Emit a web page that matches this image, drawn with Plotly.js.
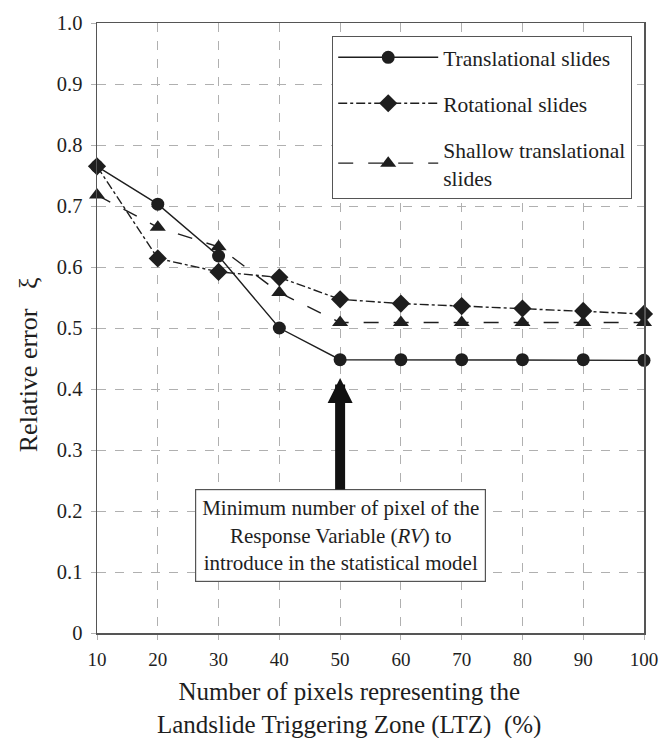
<!DOCTYPE html>
<html>
<head>
<meta charset="utf-8">
<script src="https://cdn.plot.ly/plotly-3.0.1.min.js"></script>
<style>
  html, body { margin: 0; padding: 0; background: #fff; }
  #chart { width: 659px; height: 738px; }
</style>
</head>
<body>
<div id="chart"></div>
<script>
// Share of LTZ pixels used (%)
const pixelShare = [10, 20, 30, 40, 50, 60, 70, 80, 90, 100];

// Relative error for each landslide type
const translational = [0.765, 0.703, 0.618, 0.500, 0.448, 0.448, 0.448, 0.448, 0.448, 0.447];
const rotational = [0.765, 0.614, 0.592, 0.583, 0.547, 0.540, 0.536, 0.532, 0.528, 0.523];
const shallowTranslational = [0.718, 0.665, 0.633, 0.558, 0.509, 0.509, 0.509, 0.509, 0.509, 0.509];

const seriesNames = ["Translational slides", "Rotational slides", "Shallow translational<br>slides"];

const yTickVals = [0, 0.1, 0.2, 0.3, 0.4, 0.5, 0.6, 0.7, 0.8, 0.9, 1.0];
const yTickText = ["0", "0.1", "0.2", "0.3", "0.4", "0.5", "0.6", "0.7", "0.8", "0.9", "1.0"];

// Tip of the arrow and centre of the note box (data units)
const arrowTip = { x: 50, y: 0.418 };
const noteCentre = { x: 50, y: 0.160 };

const ink = "#1e1e1e";
const serif = "Liberation Serif, Times New Roman, serif";

function series(name, y, dash, symbol, size, group) {
  return {
    x: pixelShare,
    y: y,
    name: name,
    legendgroup: group,
    type: "scatter",
    mode: "lines+markers",
    cliponaxis: false,
    line: { color: ink, width: 1.4, dash: dash },
    marker: { symbol: symbol, size: size, color: ink, line: { width: 0 } }
  };
}

const traces = [
  series(seriesNames[0], translational, "solid", "circle", 13, "a"),
  series(seriesNames[1], rotational, "dashdot", "diamond", 14, "b"),
  series(seriesNames[2], shallowTranslational, "longdash", "triangle-up", 14, "c")
];

const axisCommon = {
  showline: true,
  mirror: true,
  linecolor: "#555",
  linewidth: 1.5,
  showgrid: true,
  gridcolor: "#b0b0b0",
  griddash: "dash",
  gridwidth: 1,
  zeroline: false,
  ticks: "outside",
  ticklen: 5,
  tickcolor: "#b0b0b0",
  ticklabelstandoff: 4
};

const layout = {
  width: 659,
  height: 738,
  margin: { l: 97, r: 15, t: 23, b: 105 },
  paper_bgcolor: "#fff",
  plot_bgcolor: "#fff",
  font: { family: serif, color: ink },
  showlegend: true,
  legend: {
    x: 0.43, y: 0.979, xanchor: "left", yanchor: "top",
    bgcolor: "#fff",
    bordercolor: "#555",
    borderwidth: 1,
    font: { family: serif, size: 21.5, color: ink },
    itemwidth: 100,
    tracegroupgap: 15,
    traceorder: "grouped"
  },
  xaxis: Object.assign({}, axisCommon, {
    range: [10, 100],
    tickvals: pixelShare,
    tickfont: { family: serif, size: 19, color: ink }
  }),
  yaxis: Object.assign({}, axisCommon, {
    range: [0, 1],
    tickvals: yTickVals,
    ticktext: yTickText,
    tickfont: { family: serif, size: 20.5, color: ink }
  }),
  annotations: [
    {
      // y-axis title
      xref: "paper", yref: "paper",
      x: -0.125, y: 0.44, xanchor: "center", yanchor: "middle",
      textangle: -90,
      text: "Relative error   ξ",
      font: { family: serif, size: 26, color: ink },
      showarrow: false
    },
    {
      // x-axis title, two lines
      xref: "paper", yref: "paper",
      x: 0.46, y: -0.123, xanchor: "center", yanchor: "middle",
      text: "Number of pixels representing the<br>Landslide Triggering Zone (LTZ)  (%)",
      font: { family: serif, size: 25, color: ink },
      showarrow: false
    },
    {
      x: arrowTip.x, y: arrowTip.y, xref: "x", yref: "y",
      ax: noteCentre.x, ay: noteCentre.y, axref: "x", ayref: "y",
      text: "Minimum number of pixel of the<br>Response Variable (<i>RV</i>) to<br>introduce in the statistical model",
      font: { family: serif, size: 21, color: ink },
      align: "center",
      showarrow: true,
      arrowhead: 2,
      arrowsize: 0.5,
      arrowwidth: 10,
      arrowcolor: "#111",
      bgcolor: "#fff",
      bordercolor: "#555",
      borderwidth: 1.2,
      borderpad: 6
    }
  ]
};

Plotly.newPlot("chart", traces, layout, { displayModeBar: false, staticPlot: true });
</script>
</body>
</html>
